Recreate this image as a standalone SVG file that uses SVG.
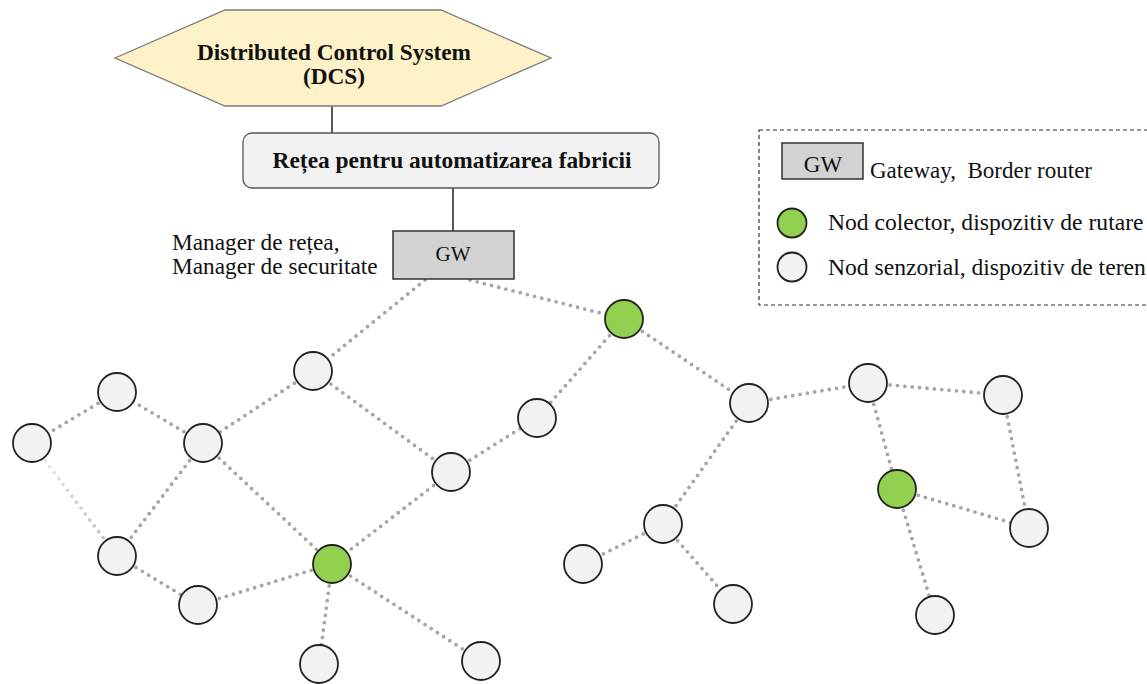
<svg xmlns="http://www.w3.org/2000/svg" width="1147" height="684" viewBox="0 0 1147 684">
  <style>
    .serif { font-family: "Liberation Serif", "Times New Roman", serif; fill: #111; }
    .bold { font-weight: bold; }
    .solid { stroke: #222; stroke-width: 1.5; fill: none; }
    .dot { stroke: #a6a6a6; stroke-width: 3.8; stroke-linecap: round; stroke-dasharray: 0 7.4; fill: none; }
    .sensor { fill: #f2f2f2; stroke: #222; stroke-width: 1.8; }
    .sink { fill: #92d050; stroke: #222; stroke-width: 1.8; }
    .gw { fill: #d2d2d2; stroke: #333; stroke-width: 1.5; }
  </style>
  <defs>
    <linearGradient id="fade" gradientUnits="userSpaceOnUse" x1="32" y1="443" x2="117" y2="556">
      <stop offset="0" stop-color="#ececec"/>
      <stop offset="1" stop-color="#bcbcbc"/>
    </linearGradient>
  </defs>
  <rect width="1147" height="684" fill="#ffffff"/>

  <!-- connectors -->
  <g id="connectors">
    <line class="solid" x1="332" y1="106" x2="332" y2="133"/>
    <line class="solid" x1="453" y1="188" x2="453" y2="231"/>
    <line class="dot" x1="425" y1="280" x2="313" y2="371"/>
    <line class="dot" x1="470" y1="280" x2="624" y2="319"/>
    <line class="dot" x1="624" y1="319" x2="537" y2="418"/>
    <line class="dot" x1="624" y1="319" x2="749" y2="403"/>
    <line class="dot" x1="749" y1="403" x2="868" y2="383"/>
    <line class="dot" x1="749" y1="403" x2="663" y2="524"/>
    <line class="dot" x1="663" y1="524" x2="583" y2="564"/>
    <line class="dot" x1="663" y1="524" x2="733" y2="604"/>
    <line class="dot" x1="868" y1="383" x2="1003" y2="395"/>
    <line class="dot" x1="868" y1="383" x2="897" y2="489"/>
    <line class="dot" x1="1003" y1="395" x2="1029" y2="528"/>
    <line class="dot" x1="897" y1="489" x2="1029" y2="528"/>
    <line class="dot" x1="897" y1="489" x2="935" y2="615"/>
    <line class="dot" x1="313" y1="371" x2="203" y2="443"/>
    <line class="dot" x1="313" y1="371" x2="451" y2="472"/>
    <line class="dot" x1="451" y1="472" x2="537" y2="418"/>
    <line class="dot" x1="451" y1="472" x2="332" y2="564"/>
    <line class="dot" x1="203" y1="443" x2="117" y2="392"/>
    <line class="dot" x1="203" y1="443" x2="117" y2="556"/>
    <line class="dot" x1="203" y1="443" x2="332" y2="564"/>
    <line class="dot" x1="117" y1="392" x2="32" y2="443"/>
    <line class="dot" x1="32" y1="443" x2="117" y2="556" style="stroke:url(#fade)"/>
    <line class="dot" x1="117" y1="556" x2="198" y2="605"/>
    <line class="dot" x1="198" y1="605" x2="332" y2="564"/>
    <line class="dot" x1="332" y1="564" x2="319" y2="664"/>
    <line class="dot" x1="332" y1="564" x2="481" y2="661"/>
  </g>

  <!-- control system -->
  <g id="dcs">
    <polygon points="115,58 225,10 441,10 551,58 441,106 225,106" fill="#fdf1c8" stroke="#7a7a7a" stroke-width="1.3"/>
    <text class="serif bold" x="334" y="60" font-size="23.3" text-anchor="middle">Distributed Control System</text>
    <text class="serif bold" x="334" y="84" font-size="23.3" text-anchor="middle">(DCS)</text>
  </g>

  <g id="factory-network">
    <rect x="243" y="133" width="416" height="55" rx="9" fill="#f2f2f2" stroke="#555" stroke-width="1.3"/>
    <text class="serif bold" x="452" y="168" font-size="23.4" text-anchor="middle">Rețea pentru automatizarea fabricii</text>
  </g>

  <g id="gateway">
    <rect class="gw" x="393" y="231" width="121" height="48"/>
    <text class="serif" x="453" y="261" font-size="21" text-anchor="middle">GW</text>
  </g>

  <g id="manager-label">
    <text class="serif" x="172" y="250" font-size="23.3">Manager de rețea,</text>
    <text class="serif" x="172" y="274" font-size="23.3">Manager de securitate</text>
  </g>

  <!-- field nodes -->
  <g id="n-sink-1"><circle class="sink" cx="624" cy="319" r="19"/></g>
  <g id="n-sink-2"><circle class="sink" cx="332" cy="564" r="19"/></g>
  <g id="n-sink-3"><circle class="sink" cx="897" cy="489" r="19"/></g>
  <g id="n-1"><circle class="sensor" cx="313" cy="371" r="19"/></g>
  <g id="n-2"><circle class="sensor" cx="117" cy="392" r="19"/></g>
  <g id="n-3"><circle class="sensor" cx="32" cy="443" r="19"/></g>
  <g id="n-4"><circle class="sensor" cx="203" cy="443" r="19"/></g>
  <g id="n-5"><circle class="sensor" cx="537" cy="418" r="19"/></g>
  <g id="n-6"><circle class="sensor" cx="451" cy="472" r="19"/></g>
  <g id="n-7"><circle class="sensor" cx="117" cy="556" r="19"/></g>
  <g id="n-8"><circle class="sensor" cx="198" cy="605" r="19"/></g>
  <g id="n-9"><circle class="sensor" cx="319" cy="664" r="19"/></g>
  <g id="n-10"><circle class="sensor" cx="481" cy="661" r="19"/></g>
  <g id="n-11"><circle class="sensor" cx="749" cy="403" r="19"/></g>
  <g id="n-12"><circle class="sensor" cx="663" cy="524" r="19"/></g>
  <g id="n-13"><circle class="sensor" cx="583" cy="564" r="19"/></g>
  <g id="n-14"><circle class="sensor" cx="733" cy="604" r="19"/></g>
  <g id="n-15"><circle class="sensor" cx="868" cy="383" r="19"/></g>
  <g id="n-16"><circle class="sensor" cx="1003" cy="395" r="19"/></g>
  <g id="n-17"><circle class="sensor" cx="1029" cy="528" r="19"/></g>
  <g id="n-18"><circle class="sensor" cx="935" cy="615" r="19"/></g>

  <!-- legend -->
  <g id="legend">
    <rect x="759" y="130" width="400" height="175" fill="none" stroke="#333" stroke-width="1.2" stroke-dasharray="4 3"/>
    <rect class="gw" x="782" y="143" width="81" height="36"/>
    <text class="serif" x="823" y="172" font-size="23" text-anchor="middle">GW</text>
    <text class="serif" x="870" y="178" font-size="23" xml:space="preserve">Gateway,  Border router</text>
    <circle class="sink" cx="792" cy="223" r="14.5"/>
    <text class="serif" x="828" y="230" font-size="23.6">Nod colector, dispozitiv de rutare</text>
    <circle class="sensor" cx="792" cy="267" r="14.5"/>
    <text class="serif" x="828" y="275" font-size="23.6">Nod senzorial, dispozitiv de teren</text>
  </g>
</svg>
